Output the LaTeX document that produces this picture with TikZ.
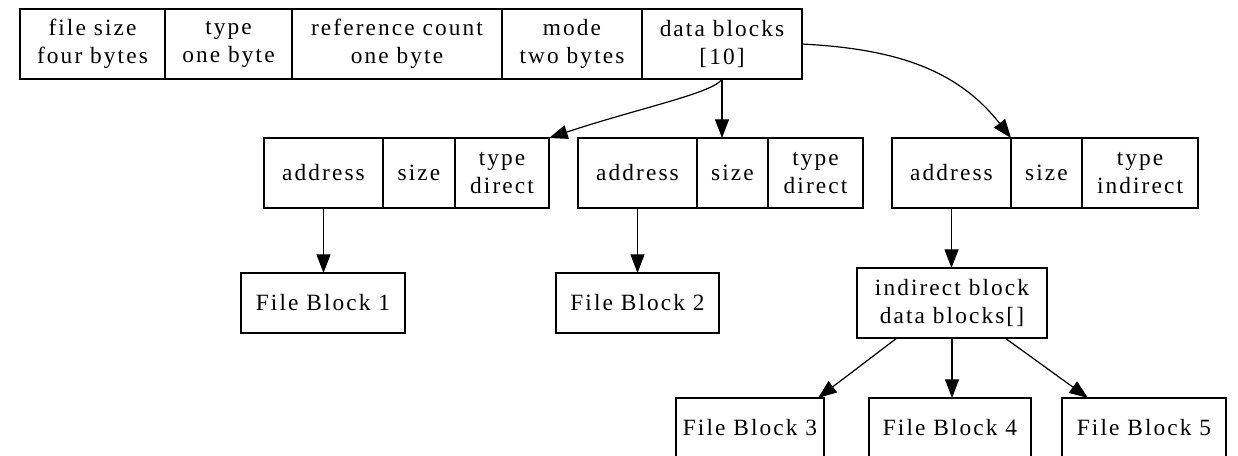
\documentclass[tikz,border=0pt]{standalone}
\usepackage{fontspec}
\setmainfont{Liberation Serif}[LetterSpace=9]
\usetikzlibrary{positioning,arrows.meta}

\tikzset{every picture/.style={line width=0.9pt}}
\tikzset{
  fld/.style={draw, rectangle, inner sep=0pt, outer sep=0pt, align=center,
    minimum height=52.5pt, font=\fontsize{17.5pt}{21pt}\selectfont},
  blk/.style={fld, minimum height=45pt},
  arr/.style={-{Triangle[length=14pt,width=10.5pt]}}
}

\begin{document}
\begin{tikzpicture}[x=0.75pt,y=0.75pt,yscale=-1]
		\useasboundingbox (0,0) rectangle (1238,455);

		% inode record
		\node [fld, minimum width=108.75pt] (fsize) at (92.5,44) {file size\\four bytes};
		\node [fld, minimum width=95.25pt, right=0pt of fsize] (ftype) {type\\one byte};
		\node [fld, minimum width=157.5pt, right=0pt of ftype] (frefc) {reference count\\one byte};
		\node [fld, minimum width=105pt, right=0pt of frefc] (fmode) {mode\\two bytes};
		\node [fld, minimum width=120pt, right=0pt of fmode] (fdata) {data blocks\\{[10]}};

		% data block entries
		\node [fld, minimum width=89.25pt] (daddr) at (323.5,173) {address};
		\node [fld, minimum width=54pt, right=0pt of daddr] (dsize) {size};
		\node [fld, minimum width=70.5pt, right=0pt of dsize] (dtype) {type\\direct};

		\node [fld, minimum width=89.25pt] (eaddr) at (637.5,173) {address};
		\node [fld, minimum width=53.25pt, right=0pt of eaddr] (esize) {size};
		\node [fld, minimum width=71.25pt, right=0pt of esize] (etype) {type\\direct};

		\node [fld, minimum width=89.25pt] (iaddr) at (951.5,173) {address};
		\node [fld, minimum width=53.25pt, right=0pt of iaddr] (isize) {size};
		\node [fld, minimum width=87pt, right=0pt of isize] (itype) {type\\indirect};

		% blocks
		\node [blk, minimum width=123pt] (fb1) at (323,303) {File Block 1};
		\node [blk, minimum width=122.25pt] (fb2) at (637.5,303) {File Block 2};
		\node [fld, minimum width=142.5pt] (iblk) at (952,303) {indirect block\\data blocks[]};
		\node [blk, minimum width=111pt] (fb3) at (750,428) {File Block 3};
		\node [blk, minimum width=121.5pt] (fb4) at (950,428) {File Block 4};
		\node [blk, minimum width=123pt] (fb5) at (1144,428) {File Block 5};

		\draw [arr] (fdata.south) .. controls +(-8,14) and +(90,-30) .. (dtype.north east);
		\draw [arr] (fdata.south) -- (fdata.south |- esize.north);
		\draw [arr] (fdata.east) to[out=3,in=-128] (iaddr.north east);
		\draw [arr] (daddr.south) -- (daddr.south |- fb1.north);
		\draw [arr] (eaddr.south) -- (eaddr.south |- fb2.north);
		\draw [arr] (iaddr.south) -- (iaddr.south |- iblk.north);
		\draw [arr] ([xshift=-41.25pt]iblk.south) -- ([xshift=51pt]fb3.north);
		\draw [arr] (iblk.south) -- (iblk.south |- fb4.north);
		\draw [arr] ([xshift=39.75pt]iblk.south) -- ([xshift=-42pt]fb5.north);
\end{tikzpicture}
\end{document}
